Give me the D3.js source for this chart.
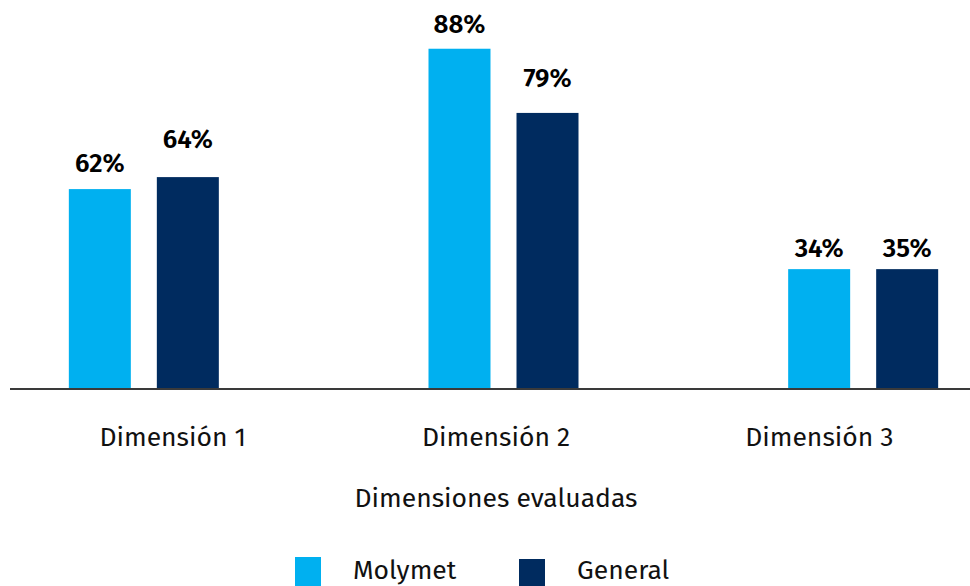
<!DOCTYPE html>
<html>
<head>
<meta charset="utf-8">
<script src="https://cdn.jsdelivr.net/npm/d3@7"></script>
<style>
  html, body { margin: 0; padding: 0; background: #fff; }
  svg { display: block; font-family: "Fira Sans", "Noto Sans", sans-serif; }
</style>
</head>
<body>
<svg id="chart" width="970" height="586"></svg>
<script>
// ---- data ----
const categories = ["Dimensión 1", "Dimensión 2", "Dimensión 3"];
const seriesNames = ["Molymet", "General"];
// bar heights (scale units)
const molymetValues = [51.7, 88, 31];
const generalValues = [54.8, 71.4, 31];
// value labels as printed
const molymetLabels = ["62%", "88%", "34%"];
const generalLabels = ["64%", "79%", "35%"];
const axisTitle = "Dimensiones evaluadas";

// ---- layout / style ----
const colors = { Molymet: "#00B0F0", General: "#002B5F" };
const labelGap = { Molymet: [17, 16, 12], General: [29, 26, 12] };

const svg = d3.select("#chart");
const baseY = 389;

const y = d3.scaleLinear().domain([0, 90]).range([baseY, baseY - 348]);

// scale for bar groups
const xBars = d3.scaleBand().domain(categories).range([-36, 1043]);
const xSub = d3.scaleBand().domain(seriesNames).range([0, 150]).paddingInner(0.2955);
// scale for category labels
const xLabels = d3.scaleBand().domain(categories).range([11, 981]);

const rows = categories.map((c, i) => ({
  cat: c,
  items: [
    { s: "Molymet", v: molymetValues[i], label: molymetLabels[i], i },
    { s: "General", v: generalValues[i], label: generalLabels[i], i }
  ]
}));

const groups = svg.selectAll("g.grp").data(rows).join("g")
  .attr("class", "grp")
  .attr("transform", d => `translate(${xBars(d.cat) + xBars.bandwidth() / 2 - 75},0)`);

groups.selectAll("rect").data(d => d.items).join("rect")
  .attr("x", d => xSub(d.s))
  .attr("y", d => y(d.v))
  .attr("width", xSub.bandwidth())
  .attr("height", d => y(0) - y(d.v))
  .attr("fill", d => colors[d.s]);

groups.selectAll("text.val").data(d => d.items).join("text")
  .attr("class", "val")
  .attr("x", d => xSub(d.s) + xSub.bandwidth() / 2)
  .attr("y", d => y(d.v) - labelGap[d.s][d.i])
  .attr("text-anchor", "middle")
  .attr("font-size", 26)
  .attr("font-weight", 600)
  .attr("fill", "#000")
  .text(d => d.label);

// baseline axis
const xAxis = d3.axisBottom(xLabels).tickSize(0).tickPadding(0);
const axG = svg.append("g").attr("transform", `translate(0,${baseY})`).call(xAxis);
axG.select(".domain").attr("stroke", "#3a3a3a").attr("stroke-width", 2)
  .attr("d", "M10,0H970");
axG.selectAll(".tick text")
  .attr("font-size", 26.5)
  .attr("font-family", "'Fira Sans', 'Noto Sans', sans-serif")
  .attr("fill", "#111")
  .attr("dy", null)
  .attr("y", 57);

// axis title
svg.append("text")
  .attr("x", 496).attr("y", 507)
  .attr("text-anchor", "middle")
  .attr("font-size", 26.5)
  .attr("fill", "#111")
  .text(axisTitle);

// legend
const legendItems = [
  { s: "Molymet", rx: 295, ry: 557, tx: 353, ty: 579 },
  { s: "General", rx: 519, ry: 559, tx: 577, ty: 579 }
];
const lg = svg.append("g");
lg.selectAll("rect").data(legendItems).join("rect")
  .attr("x", d => d.rx).attr("y", d => d.ry)
  .attr("width", 26).attr("height", 30)
  .attr("fill", d => colors[d.s]);
lg.selectAll("text").data(legendItems).join("text")
  .attr("x", d => d.tx).attr("y", d => d.ty)
  .attr("font-size", 26.5)
  .attr("fill", "#111")
  .text(d => d.s);
</script>
</body>
</html>
